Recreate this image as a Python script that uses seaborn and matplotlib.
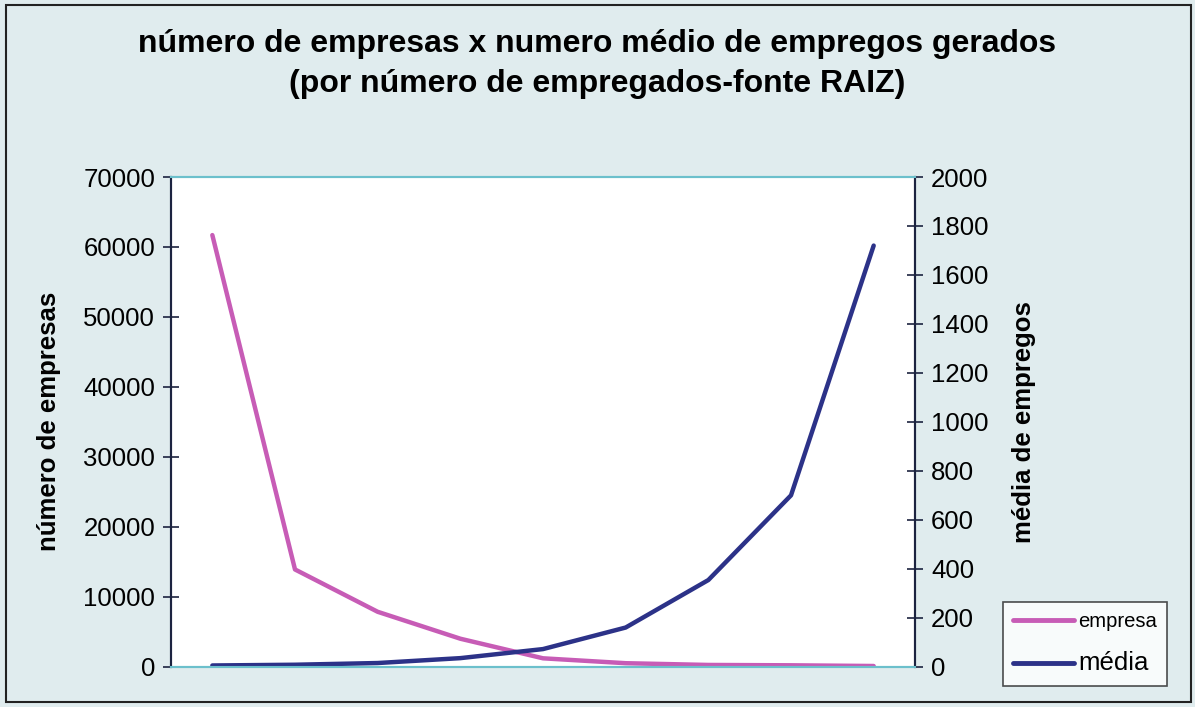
import numpy as np
import pandas as pd
import seaborn as sns
import matplotlib.pyplot as plt
from matplotlib.patches import Rectangle
from matplotlib.lines import Line2D

# faixas de tamanho (sem rótulo no gráfico original)
faixas = ["1-4", "5-9", "10-19", "20-49", "50-99", "100-249", "250-499", "500-999", "1000+"]
empresas = [61700, 13900, 7850, 4000, 1200, 500, 250, 200, 100]
media = [5, 8, 15, 35, 72, 160, 354, 700, 1720]

left_ticks = np.arange(0, 70001, 10000)
right_ticks = np.arange(0, 2001, 200)

bg = "#e0ecee"
pink = "#c75cb6"
navy = "#2c3288"
teal = "#6cc0cc"
dark = "#1c2340"

sns.set_theme(style="white")
plt.rcParams["font.family"] = ["Liberation Sans", "DejaVu Sans"]
plt.rcParams["text.color"] = "black"
plt.rcParams["axes.labelcolor"] = "black"
plt.rcParams["ytick.color"] = "black"

df = pd.DataFrame({"pos": np.arange(len(faixas)), "empresa": empresas, "media": media})

fig = plt.figure(figsize=(11.95, 7.07), dpi=100, facecolor=bg)
ax = fig.add_axes([0.1431, 0.057, 0.6226, 0.6926])
ax.set_facecolor("white")
ax2 = ax.twinx()

sns.lineplot(data=df, x="pos", y="empresa", ax=ax, color=pink, linewidth=3.2)
sns.lineplot(data=df, x="pos", y="media", ax=ax2, color=navy, linewidth=3.2)

ax.set_xlim(-0.5, len(faixas) - 0.5)
ax.set_ylim(0, 70000)
ax2.set_ylim(0, 2000)
ax.set_xticks([])
ax.set_yticks(left_ticks)
ax2.set_yticks(right_ticks)
ax.set_yticklabels([str(v) for v in left_ticks], fontsize=18.5)
ax2.set_yticklabels([str(v) for v in right_ticks], fontsize=18.5)
ax.tick_params(axis="y", direction="inout", length=11, width=1.2, color=dark, pad=6, labelcolor="black")
ax2.tick_params(axis="y", direction="inout", length=11, width=1.2, color=dark, pad=6, labelcolor="black")
ax.set_xlabel("")
ax.set_ylabel("número de empresas", fontsize=18.5, fontweight="bold")
ax2.set_ylabel("média de empregos", fontsize=18.5, fontweight="bold")
ax.yaxis.set_label_coords(-0.148, 0.5)
ax2.yaxis.set_label_coords(1.131, 0.5)

for a in (ax, ax2):
    a.spines["top"].set_color(teal)
    a.spines["bottom"].set_color(teal)
    a.spines["top"].set_linewidth(1.5)
    a.spines["bottom"].set_linewidth(1.5)
    a.spines["left"].set_color(dark)
    a.spines["right"].set_color(dark)
    a.spines["left"].set_linewidth(1.5)
    a.spines["right"].set_linewidth(1.5)

fig.text(0.5, 0.938, "número de empresas x numero médio de empregos gerados",
         ha="center", va="center", fontsize=23, fontweight="bold")
fig.text(0.5, 0.881, "(por número de empregados-fonte RAIZ)",
         ha="center", va="center", fontsize=23, fontweight="bold")

handles = [Line2D([], [], color=pink, linewidth=3.5), Line2D([], [], color=navy, linewidth=3.5)]
leg = fig.legend(handles, ["empresa", "média"], loc="upper left",
                 bbox_to_anchor=(0.8393, 0.1485), borderaxespad=0, frameon=True, fancybox=False,
                 edgecolor="#222222", facecolor="white", fontsize=14.6, handlelength=3.0,
                 handletextpad=0.2, borderpad=0.5, labelspacing=1.0)
leg.get_texts()[1].set_fontsize(18.5)
leg.get_frame().set_linewidth(1.2)

fig.patches.append(Rectangle((0.005, 0.007), 0.992, 0.986, transform=fig.transFigure,
                             fill=False, edgecolor="#222222", linewidth=1.5))

fig.savefig("out.png", dpi=100, facecolor=bg)
